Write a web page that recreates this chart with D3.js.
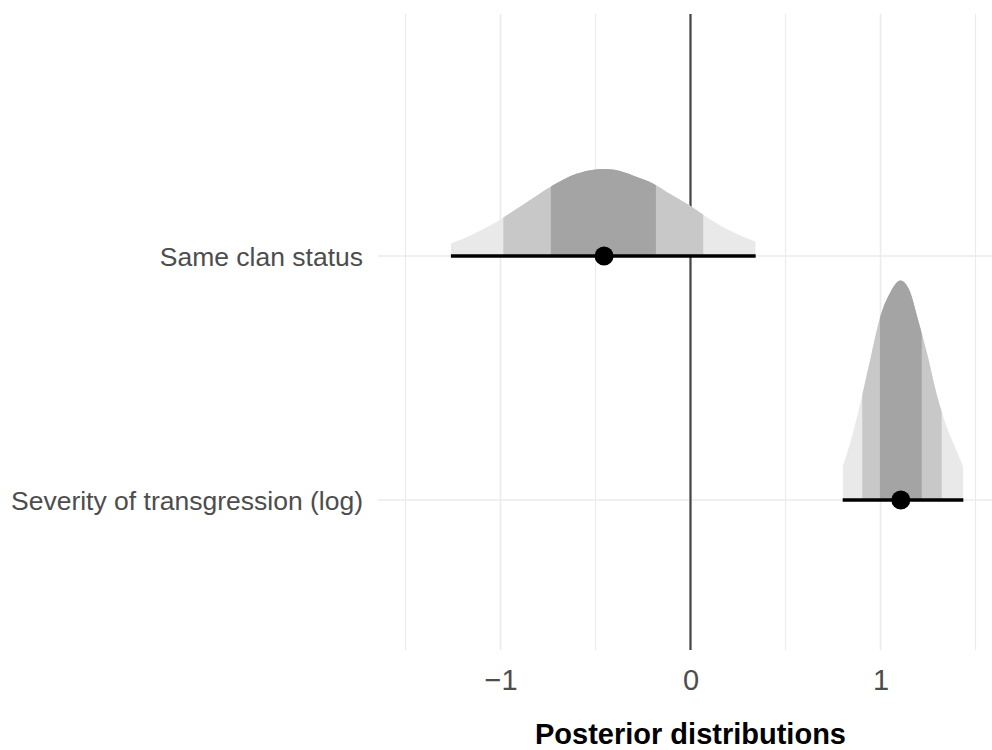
<!DOCTYPE html>
<html>
<head>
<meta charset="utf-8">
<script src="https://cdn.jsdelivr.net/npm/d3@7"></script>
<style>
  html, body { margin: 0; padding: 0; background: #ffffff; }
  svg { display: block; }
</style>
</head>
<body>
<svg id="chart" width="992" height="750"></svg>
<script>
// Parameters, top to bottom
const params = ["Same clan status", "Severity of transgression (log)"];

// Posterior medians
const medians = [-0.455, 1.107];

// Credible intervals: 50%, 80%, 95% (lower, upper)
const ci50 = [[-0.735, -0.182], [0.997, 1.217]];
const ci80 = [[-0.985, 0.067], [0.904, 1.322]];
const ci95 = [[-1.261, 0.343], [0.801, 1.436]];

// Posterior density samples (value, density)
const densSameClan = [
  [-1.261, 0.143], [-1.2, 0.19], [-1.1, 0.29], [-1.0, 0.41], [-0.9, 0.55],
  [-0.8, 0.69], [-0.7, 0.82], [-0.6, 0.92], [-0.5, 0.97], [-0.45, 0.975],
  [-0.4, 0.965], [-0.3, 0.90], [-0.2, 0.815], [-0.1, 0.685], [0.0, 0.56],
  [0.1, 0.415], [0.2, 0.29], [0.3, 0.195], [0.343, 0.16]
];
const densSeverity = [
  [0.801, 0.374], [0.85, 0.71], [0.904, 1.18], [0.95, 1.61], [1.0, 2.06],
  [1.05, 2.32], [1.105, 2.46], [1.15, 2.36], [1.2, 2.0], [1.25, 1.60],
  [1.3, 1.15], [1.35, 0.81], [1.4, 0.555], [1.436, 0.37]
];
const densities = [densSameClan, densSeverity];

// Axis ticks
const xMajor = [-1, 0, 1];
const xMinor = [-1.5, -0.5, 0.5, 1.5];
const xTitle = "Posterior distributions";

const svg = d3.select("#chart");
const panel = { left: 378, right: 992, top: 14, bottom: 650 };

const x = d3.scaleLinear().domain([-1.5, 1.5]).range([405.5, 975.5]);
const y = d3.scalePoint().domain(params).range([256, 500]);
const step = y(params[1]) - y(params[0]);
const maxDens = d3.max(densities.flat(), d => d[1]);
const h = d3.scaleLinear().domain([0, maxDens]).range([0, 0.9 * step]);

const gridCol = "#ebebeb";

// Grid
const grid = svg.append("g");
grid.selectAll("line.minor").data(xMinor).join("line")
  .attr("x1", d => x(d)).attr("x2", d => x(d))
  .attr("y1", panel.top).attr("y2", panel.bottom)
  .attr("stroke", gridCol).attr("stroke-width", 1.1);
grid.selectAll("line.major").data(xMajor).join("line")
  .attr("x1", d => x(d)).attr("x2", d => x(d))
  .attr("y1", panel.top).attr("y2", panel.bottom)
  .attr("stroke", gridCol).attr("stroke-width", 1.6);
grid.selectAll("line.hz").data(params).join("line")
  .attr("x1", panel.left).attr("x2", panel.right)
  .attr("y1", d => y(d)).attr("y2", d => y(d))
  .attr("stroke", gridCol).attr("stroke-width", 1.6);

// Reference line at zero
svg.append("line")
  .attr("x1", x(0)).attr("x2", x(0))
  .attr("y1", panel.top).attr("y2", panel.bottom)
  .attr("stroke", "#444444").attr("stroke-width", 2.2);

// Slabs, shaded by interval
const defs = svg.append("defs");
const bands = [
  { key: "95", ci: ci95, fill: "#e9e9e9" },
  { key: "80", ci: ci80, fill: "#c8c8c8" },
  { key: "50", ci: ci50, fill: "#a4a4a4" }
];

params.forEach((p, i) => {
  const yc = y(p);
  const area = d3.area()
    .x(d => x(d[0]))
    .y0(yc)
    .y1(d => yc - h(d[1]))
    .curve(d3.curveMonotoneX);
  const g = svg.append("g");
  bands.forEach(b => {
    const id = `clip-${i}-${b.key}`;
    defs.append("clipPath").attr("id", id)
      .append("rect")
      .attr("x", x(b.ci[i][0])).attr("width", x(b.ci[i][1]) - x(b.ci[i][0]))
      .attr("y", yc - 0.95 * step).attr("height", 0.95 * step + 1);
    g.append("path")
      .datum(densities[i])
      .attr("d", area)
      .attr("fill", b.fill)
      .attr("clip-path", `url(#${id})`);
  });
  // Interval and median
  g.append("line")
    .attr("x1", x(ci95[i][0])).attr("x2", x(ci95[i][1]))
    .attr("y1", yc).attr("y2", yc)
    .attr("stroke", "#000").attr("stroke-width", 3.4);
  g.append("circle")
    .attr("cx", x(medians[i])).attr("cy", yc).attr("r", 9.5)
    .attr("fill", "#000");
});

// Axes
const font = "'Liberation Sans', Arial, Helvetica, sans-serif";
const xAxis = svg.append("g")
  .attr("transform", `translate(0,${panel.bottom})`)
  .call(d3.axisBottom(x).tickValues(xMajor).tickSize(0).tickPadding(0).tickFormat(d3.format("d")));
xAxis.select(".domain").remove();
xAxis.selectAll("text")
  .attr("y", 40).attr("dy", null)
  .attr("font-family", font).attr("font-size", 29).attr("fill", "#4d4d4d");

const yAxis = svg.append("g")
  .attr("transform", `translate(${panel.left},0)`)
  .call(d3.axisLeft(y).tickSize(0).tickPadding(15));
yAxis.select(".domain").remove();
yAxis.selectAll("text")
  .attr("dy", "0.355em")
  .attr("font-family", font).attr("font-size", 26.5).attr("fill", "#4d4d4d");

// Axis title
svg.append("text")
  .attr("x", 690.5).attr("y", 744)
  .attr("text-anchor", "middle")
  .attr("font-family", font).attr("font-size", 29).attr("font-weight", "bold")
  .attr("fill", "#000")
  .text(xTitle);
</script>
</body>
</html>
